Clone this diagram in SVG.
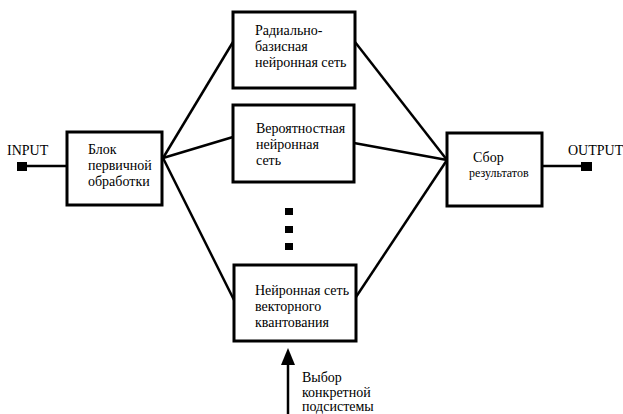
<svg xmlns="http://www.w3.org/2000/svg" width="623" height="414" viewBox="0 0 623 414">
<style>
.box{fill:#fff;stroke:#000;stroke-width:3}
.ln{stroke:#000;stroke-width:2.5;fill:none}
</style>
<rect width="623" height="414" fill="#fff"/>
<g id="connectors">
<line class="ln" x1="27" y1="166" x2="67" y2="166"/>
<rect x="17" y="162" width="10" height="9" fill="#000"/>
<line class="ln" x1="163" y1="158" x2="233" y2="42"/>
<line class="ln" x1="163" y1="158" x2="233" y2="137"/>
<line class="ln" x1="163" y1="158" x2="234" y2="300"/>
<line class="ln" x1="355" y1="42" x2="447" y2="160"/>
<line class="ln" x1="354" y1="143" x2="447" y2="160"/>
<line class="ln" x1="356" y1="297" x2="447" y2="160"/>
<line class="ln" x1="542" y1="166" x2="582" y2="166"/>
<rect x="581" y="162" width="11" height="9" fill="#000"/>
<line class="ln" x1="288" y1="364" x2="288" y2="414"/>
<polygon points="288,348 281,365 295,365" fill="#000"/>
</g>
<g font-family="Liberation Serif" font-size="14" fill="#000">
<g id="input"><text x="7" y="155">INPUT</text></g>
<g id="output"><text x="568" y="155">OUTPUT</text></g>
<g id="preproc">
<rect class="box" x="67" y="132" width="95" height="73"/>
<text x="88" y="154">Блок</text>
<text x="88" y="170">первичной</text>
<text x="88" y="186">обработки</text>
</g>
<g id="rbf">
<rect class="box" x="233" y="12" width="122" height="76"/>
<text x="255" y="35">Радиально-</text>
<text x="255" y="51">базисная</text>
<text x="255" y="67">нейронная сеть</text>
</g>
<g id="pnn">
<rect class="box" x="233" y="105" width="121" height="77"/>
<text x="256" y="133">Вероятностная</text>
<text x="256" y="149">нейронная</text>
<text x="256" y="165">сеть</text>
</g>
<g id="dots">
<rect x="285" y="208" width="8" height="7" fill="#000"/>
<rect x="285" y="226" width="8" height="7" fill="#000"/>
<rect x="285" y="243" width="8" height="7" fill="#000"/>
</g>
<g id="lvq">
<rect class="box" x="234" y="265" width="122" height="76"/>
<text x="255" y="295">Нейронная сеть</text>
<text x="255" y="311">векторного</text>
<text x="255" y="327">квантования</text>
</g>
<g id="collect">
<rect class="box" x="447" y="133" width="95" height="73"/>
<text x="473" y="162">Сбор</text>
<text x="469" y="177" font-size="12">результатов</text>
</g>
<g id="select">
<text x="302" y="382">Выбор</text>
<text x="302" y="397">конкретной</text>
<text x="302" y="411">подсистемы</text>
</g>
</g>
</svg>
